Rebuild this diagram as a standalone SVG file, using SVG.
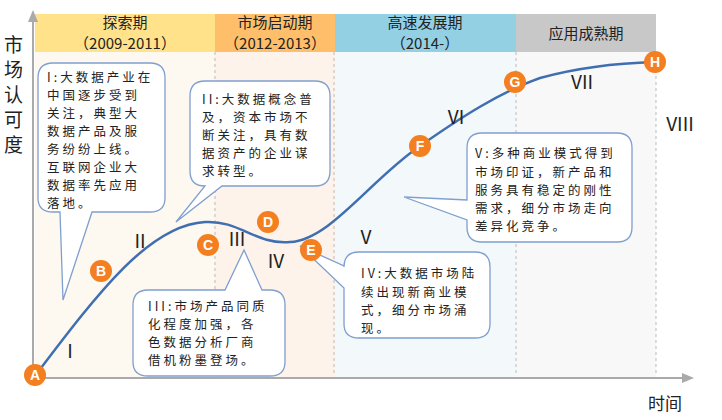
<svg xmlns="http://www.w3.org/2000/svg" width="722" height="420" viewBox="0 0 722 420">
<defs>
<style>
text{font-family:"Noto Sans CJK SC","Noto Sans",sans-serif;fill:#222}
.hd{font-size:15px;text-anchor:middle}
.cb{font-size:12.5px;letter-spacing:3px}
.rm{font-size:19px;font-family:"Liberation Sans",sans-serif;text-anchor:middle}
.co{fill:#fff;stroke:#7f9fcf;stroke-width:1.3}
.pt circle{fill:#f47f20}
.pt text{fill:#fff;font-family:"Liberation Sans",sans-serif;font-size:14px;text-anchor:middle;font-weight:bold}
.dash{stroke:#bbb;stroke-dasharray:3,3;stroke-width:1}
</style>
<marker id="ar" markerWidth="12" markerHeight="10" refX="10" refY="5" orient="auto" markerUnits="userSpaceOnUse"><path d="M0,0L12,5L0,10z" fill="#aaa"/></marker>
</defs>
<rect width="722" height="420" fill="#fff"/>
<rect x="35" y="52" width="180" height="325" fill="#fdf8f0"/>
<rect x="215" y="52" width="120" height="325" fill="#fdf3ea"/>
<rect x="335" y="52" width="181" height="325" fill="#f3f8fb"/>
<rect x="516" y="52" width="140" height="325" fill="#f8f8f8"/>
<rect x="35" y="14" width="180" height="38" fill="#ffe28a"/>
<rect x="215" y="14" width="120" height="38" fill="#ffbf6a"/>
<rect x="335" y="14" width="181" height="38" fill="#93d0e4"/>
<rect x="516" y="14" width="140" height="38" fill="#c8c8c8"/>
<text class="hd" x="125" y="28">探索期</text><text class="hd" x="125" y="49">（2009-2011）</text>
<text class="hd" x="275" y="28">市场启动期</text><text class="hd" x="275" y="49">（2012-2013）</text>
<text class="hd" x="425" y="28">高速发展期</text><text class="hd" x="425" y="49">（2014-）</text>
<text class="hd" x="586" y="39">应用成熟期</text>
<line class="dash" x1="215" y1="52" x2="215" y2="376"/>
<line class="dash" x1="334" y1="52" x2="334" y2="376"/>
<line class="dash" x1="516" y1="52" x2="516" y2="376"/>
<line class="dash" x1="656" y1="52" x2="656" y2="376"/>
<g id="axes">
<line x1="33" y1="378" x2="33" y2="12" stroke="#aaa" stroke-width="2" marker-end="url(#ar)"/>
<line x1="33" y1="378" x2="692" y2="378" stroke="#aaa" stroke-width="2" marker-end="url(#ar)"/>
</g>
<g><text x="4" y="52" style="font-size:19px">市</text><text x="4" y="77" style="font-size:19px">场</text><text x="4" y="102" style="font-size:19px">认</text><text x="4" y="127" style="font-size:19px">可</text><text x="4" y="152" style="font-size:19px">度</text></g>
<text x="648" y="410" style="font-size:17px">时间</text>
<g id="connectors">
<path d="M35,376 C100,290 150,225 205,222 C240,220 255,245 290,242 C330,240 370,180 420,146 C460,118 500,92 540,78 C580,67 620,63 655,62" fill="none" stroke="#3f6fb0" stroke-width="2.5"/>
</g>
<g id="callout1"><path class="co" d="M53,63 H150 Q165,63 165,78 V198 Q165,212 150,212 H92 L63,300 L60,212 H53 Q38,212 38,198 V78 Q38,63 53,63z"/>
<g class="cb"><text x="47" y="82">I:大数据产业在</text><text x="47" y="100">中国逐步受到</text><text x="47" y="118">关注，典型大</text><text x="47" y="136">数据产品及服</text><text x="47" y="154">务纷纷上线。</text><text x="47" y="172">互联网企业大</text><text x="47" y="190">数据率先应用</text><text x="47" y="208">落地。</text></g></g>
<g id="callout2"><path class="co" d="M205,81 H315 Q330,81 330,96 V171 Q330,186 315,186 H222 L176,222 L205,186 Q190,186 190,171 V96 Q190,81 205,81z"/>
<g class="cb"><text x="202" y="104">II:大数据概念普</text><text x="202" y="122">及，资本市场不</text><text x="202" y="140">断关注，具有数</text><text x="202" y="158">据资产的企业谋</text><text x="202" y="176">求转型。</text></g></g>
<g id="callout3"><path class="co" d="M148,290 H225 L244,250 L262,290 H270 Q285,290 285,305 V362 Q285,376 270,376 H148 Q133,376 133,362 V305 Q133,290 148,290z"/>
<g class="cb"><text x="148" y="311">III:市场产品同质</text><text x="148" y="329">化程度加强，各</text><text x="148" y="347">色数据分析厂商</text><text x="148" y="365">借机粉墨登场。</text></g></g>
<g id="callout4"><path class="co" d="M359,252 H475 Q490,252 490,267 V324 Q490,338 475,338 H359 Q344,338 344,324 V288 L300,246 L344,266 V267 Q344,252 359,252z"/>
<g class="cb"><text x="361" y="278">IV:大数据市场陆</text><text x="361" y="297">续出现新商业模</text><text x="361" y="315">式，细分市场涌</text><text x="361" y="333">现。</text></g></g>
<g id="callout5"><path class="co" d="M482,133 H617 Q632,133 632,148 V227 Q632,242 617,242 H482 Q467,242 467,227 V220 L404,197 L467,200 V148 Q467,133 482,133z"/>
<g class="cb"><text x="475" y="158">V:多种商业模式得到</text><text x="475" y="177">市场印证，新产品和</text><text x="475" y="195">服务具有稳定的刚性</text><text x="475" y="213">需求，细分市场走向</text><text x="475" y="231">差异化竞争。</text></g></g>
<g class="rm"><text x="70" y="358">I</text><text x="140" y="248">II</text><text x="237" y="246">III</text><text x="276" y="268">IV</text><text x="366" y="244">V</text><text x="456" y="124">VI</text><text x="582" y="89">VII</text><text x="680" y="131">VIII</text></g>
<g id="A" class="pt"><circle cx="35" cy="375" r="11"/><text x="35" y="380">A</text></g>
<g id="B" class="pt"><circle cx="101" cy="271" r="11"/><text x="101" y="276">B</text></g>
<g id="C" class="pt"><circle cx="208" cy="245" r="11"/><text x="208" y="250">C</text></g>
<g id="D" class="pt"><circle cx="268" cy="222" r="11"/><text x="268" y="227">D</text></g>
<g id="E" class="pt"><circle cx="311" cy="250" r="11"/><text x="311" y="255">E</text></g>
<g id="F" class="pt"><circle cx="420" cy="146" r="11"/><text x="420" y="151">F</text></g>
<g id="G" class="pt"><circle cx="515" cy="82" r="11"/><text x="515" y="87">G</text></g>
<g id="H" class="pt"><circle cx="655" cy="62" r="11"/><text x="655" y="67">H</text></g>
</svg>
